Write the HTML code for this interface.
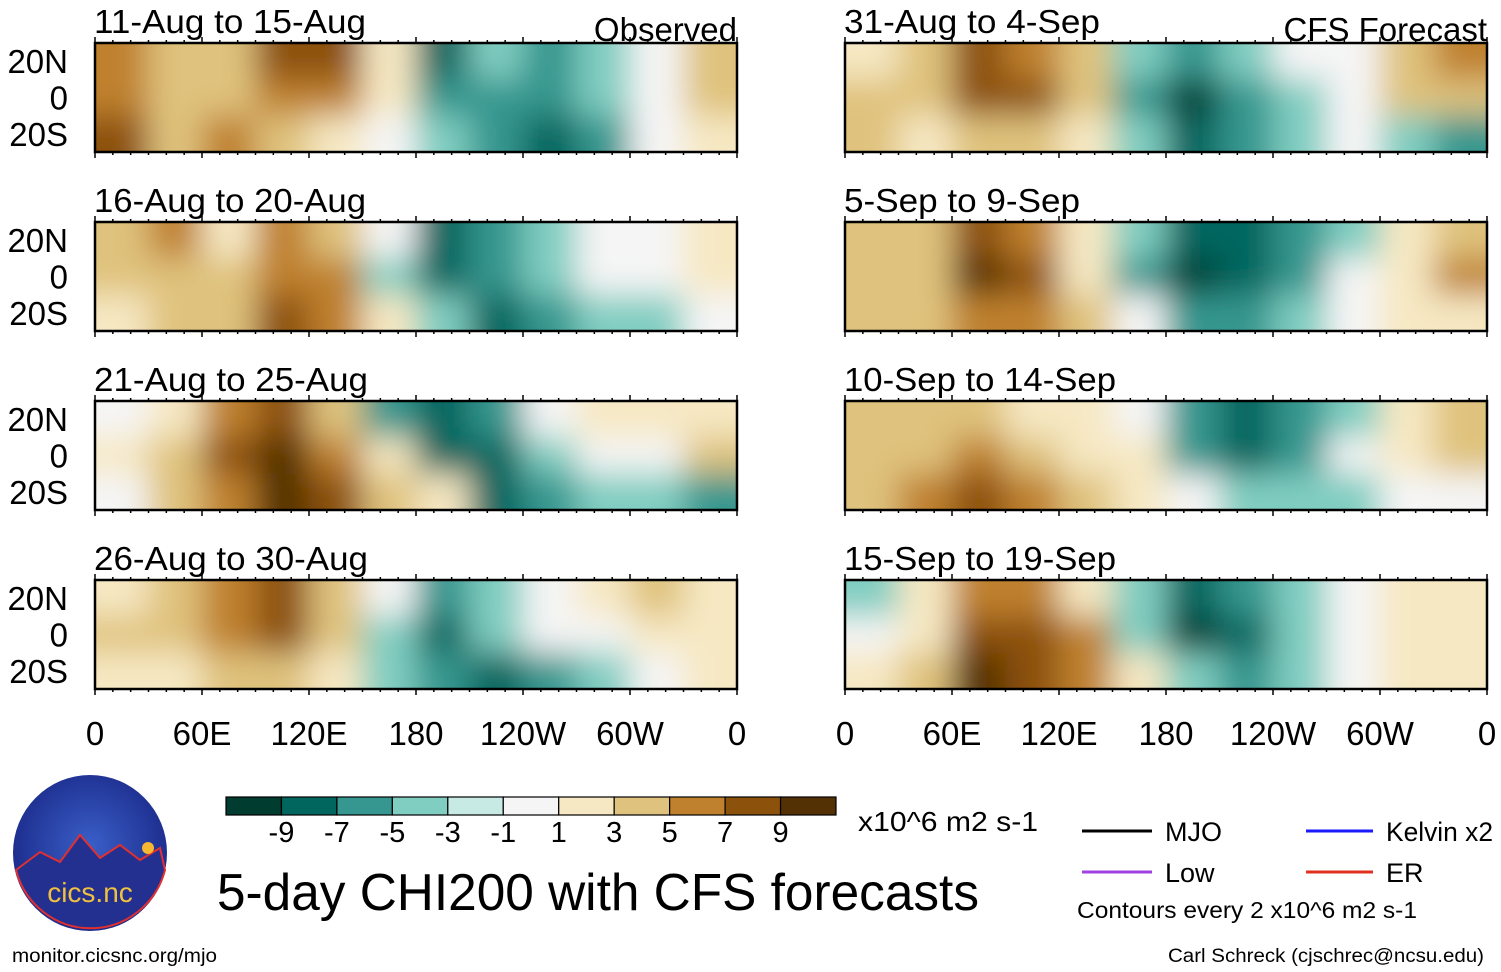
<!DOCTYPE html>
<html><head><meta charset="utf-8"><style>
body{margin:0;background:#fff;}
svg{display:block;font-family:"Liberation Sans",sans-serif;}
</style></head><body>
<svg id="chart" width="1501" height="972" viewBox="0 0 1501 972" xmlns="http://www.w3.org/2000/svg">
<defs>
<filter id="blur" filterUnits="userSpaceOnUse" x="0" y="0" width="1501" height="972"><feGaussianBlur stdDeviation="16"/></filter>
<radialGradient id="logoGrad" cx="50%" cy="45%" r="55%"><stop offset="0" stop-color="#3a5fc8"/><stop offset="1" stop-color="#1b2a8a"/></radialGradient>
</defs>
<g id="panels"></g>
<g id="axes"></g>
<g id="colorbar"></g>
<text x="858" y="831" font-size="28" textLength="180" lengthAdjust="spacingAndGlyphs">x10^6 m2 s-1</text>
<text x="217" y="910" font-size="52" textLength="762" lengthAdjust="spacingAndGlyphs">5-day CHI200 with CFS forecasts</text>
<g>
<line x1="1082" y1="831" x2="1152" y2="831" stroke="#000" stroke-width="3"/>
<text x="1165" y="841" font-size="27">MJO</text>
<line x1="1306" y1="831" x2="1373" y2="831" stroke="#1a1aff" stroke-width="3"/>
<text x="1386" y="841" font-size="27" textLength="107" lengthAdjust="spacingAndGlyphs">Kelvin x2</text>
<line x1="1082" y1="872" x2="1152" y2="872" stroke="#a040e0" stroke-width="3"/>
<text x="1165" y="882" font-size="27">Low</text>
<line x1="1306" y1="872" x2="1373" y2="872" stroke="#e03020" stroke-width="3"/>
<text x="1386" y="882" font-size="27">ER</text>
<text x="1077" y="918" font-size="23" textLength="340" lengthAdjust="spacingAndGlyphs">Contours every 2 x10^6 m2 s-1</text>
</g>
<g>
<ellipse cx="90" cy="853" rx="77" ry="78" fill="url(#logoGrad)"/>
<path d="M16 870 L40 852 L60 862 L80 835 L100 858 L120 845 L140 860 L160 848 L165 870 A77 78 0 0 1 16 870Z" fill="#24308f" stroke="#e03030" stroke-width="2"/>
<circle cx="148" cy="848" r="6" fill="#f5b830"/>
<text x="90" y="902" font-size="28" fill="#f0c040" text-anchor="middle">cics.nc</text>
</g>
<text x="12" y="962" font-size="19" textLength="205" lengthAdjust="spacingAndGlyphs">monitor.cicsnc.org/mjo</text>
<text x="1168" y="962" font-size="19" textLength="316" lengthAdjust="spacingAndGlyphs">Carl Schreck (cjschrec@ncsu.edu)</text>
</svg>
<script>
const levels=[-9,-7,-5,-3,-1,1,3,5,7,9];
const barLabels=["-9","-7","-5","-3","-1","1","3","5","7","9"];
const colors=["#003c30","#01665e","#35978f","#80cdc1","#c7eae5","#f5f5f5","#f6e8c3","#dfc27d","#bf812d","#8c510a","#543005"];
const lonLabels=["0","60E","120E","180","120W","60W","0"];
const latLabels=["20N","0","20S"];
const titles=["11-Aug to 15-Aug","16-Aug to 20-Aug","21-Aug to 25-Aug","26-Aug to 30-Aug","31-Aug to 4-Sep","5-Sep to 9-Sep","10-Sep to 14-Sep","15-Sep to 19-Sep"];
const titleWidths=[272,272,274,274,256,236,272,272];
const p1=[[5,3,3,7,7,1,-7,-3,-5,-3,-1,3],[5,3,3,5,5,1,-5,-5,-5,-3,-1,3],[7,3,5,3,1,-1,-3,-5,-7,-5,-1,1]];
const p2=[[3,5,1,5,3,-1,-7,-5,-3,-1,-1,1],[3,3,3,5,5,-3,-7,-5,-3,-1,-1,1],[1,3,3,7,5,1,-3,-7,-5,-3,-3,-1]];
const p3=[[-1,1,5,7,3,-5,-7,-5,-1,1,1,1],[1,3,7,9,5,1,-7,-7,-3,-1,-1,3],[-1,3,5,9,7,3,1,-7,-5,-3,-3,-5]];
const p4=[[1,3,5,7,3,-1,-5,-3,-1,1,3,1],[3,3,5,7,3,-3,-7,-3,-1,-1,1,1],[1,1,3,3,1,-3,-5,-7,-5,-3,-1,1]];
const p5=[[1,3,7,5,3,-3,-5,-3,-1,-1,3,5],[3,3,7,7,3,-5,-9,-5,-3,-1,3,3],[3,1,3,3,1,-3,-7,-5,-3,-1,-3,-5]];
const p6=[[3,3,7,5,1,-3,-7,-7,-5,-3,1,3],[3,3,9,7,1,-5,-9,-7,-5,-1,1,5],[3,3,5,5,3,-1,-5,-5,-3,-1,1,1]];
const p7=[[3,3,3,1,1,-1,-5,-7,-5,-3,1,3],[3,3,5,3,1,1,-5,-7,-5,-1,1,3],[3,5,7,5,3,1,-1,-3,-3,-3,-1,-1]];
const p8=[[-3,1,5,5,1,-3,-7,-5,-3,-1,1,1],[-1,1,7,7,5,-3,-9,-7,-3,-1,1,1],[1,3,9,7,5,1,-3,-5,-3,-1,1,1]];
const fields=[p1,p2,p3,p4,p5,p6,p7,p8];
const NS="http://www.w3.org/2000/svg";
function mk(t,a,p){const e=document.createElementNS(NS,t);for(const k in a)e.setAttribute(k,a[k]);p.appendChild(e);return e;}
function colorFor(v){let i=v>=-1?Math.round((v+11)/2):Math.round((v+9)/2);i=Math.max(0,Math.min(10,i));return colors[i];}
const panelW=642,panelH=109;
function panelX(i){return i<4?95:845;}
function panelY(i){return [43,222,401,580][i%4];}
function xScale(i,lon){return panelX(i)+lon/360*panelW;}
function yScale(i,lat){return panelY(i)+(30-lat)/60*panelH;}
const panels=document.getElementById('panels');
fields.forEach((f,pi)=>{
  const g=mk('g',{},panels);
  
  
  const cp=mk('clipPath',{id:'cp'+pi},g);
  mk('rect',{x:panelX(pi),y:panelY(pi),width:panelW,height:panelH},cp);
  const inner=mk('g',{'clip-path':'url(#cp'+pi+')'},g);
  const bl=mk('g',{filter:'url(#blur)'},inner);
  const lats=[20,0,-20];
  f.forEach((row,r)=>{
    row.forEach((v,c)=>{
      const x0=xScale(pi,c*30)-(c==0?40:0), x1=xScale(pi,(c+1)*30)+(c==11?40:0);
      const y0=r==0?yScale(pi,70):yScale(pi,lats[r]+10), y1=r==2?yScale(pi,-70):yScale(pi,lats[r]-10);
      const cell=mk('rect',{x:x0,y:y0,width:x1-x0+1,height:y1-y0+1,fill:colorFor(v)},bl);
      
      
    });
  });
  mk('rect',{x:panelX(pi),y:panelY(pi),width:panelW,height:panelH,fill:'none',stroke:'#000','stroke-width':2.5},g);
  for(let k=0;k<=36;k++){const x=xScale(pi,k*10),len=k%6==0?6:3;
    mk('line',{x1:x,y1:panelY(pi),x2:x,y2:panelY(pi)-len,stroke:'#000','stroke-width':1.5},g);
    mk('line',{x1:x,y1:panelY(pi)+panelH,x2:x,y2:panelY(pi)+panelH+len,stroke:'#000','stroke-width':1.5},g);}
  const t=mk('text',{x:panelX(pi)-1,y:panelY(pi)-10,'font-size':33,textLength:titleWidths[pi],lengthAdjust:'spacingAndGlyphs'},g);t.textContent=titles[pi];
  
  if(pi==0){const o=mk('text',{x:737,y:panelY(pi)-2,'font-size':33,'text-anchor':'end'},g);o.textContent='Observed';}
  if(pi==4){const o=mk('text',{x:1487,y:panelY(pi)-2,'font-size':33,'text-anchor':'end'},g);o.textContent='CFS Forecast';}
  if(pi<4){latLabels.forEach((l,k)=>{const y=yScale(pi,[20,0,-20][k])+12;
    const tt=mk('text',{x:68,y:y,'font-size':33,'text-anchor':'end'},g);tt.textContent=l;
    });}
});
const axes=document.getElementById('axes');
[0,4].forEach(pi=>{lonLabels.forEach((l,k)=>{
  const t=mk('text',{x:xScale(pi,k*60),y:745,'font-size':33,'text-anchor':'middle'},axes);t.textContent=l;
  });});
const cb=document.getElementById('colorbar');
const cw=(836-226)/colors.length;
colors.forEach((c,i)=>{const r=mk('rect',{x:226+i*cw,y:797,width:cw,height:18,fill:c,stroke:'#000','stroke-width':1.2},cb);
  });
barLabels.forEach((l,i)=>{const t=mk('text',{x:226+(i+1)*cw,y:842,'font-size':29,'text-anchor':'middle'},cb);t.textContent=l;
  });
</script>
</body></html>
